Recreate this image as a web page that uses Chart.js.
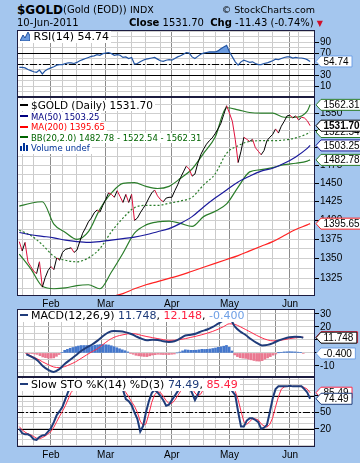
<!DOCTYPE html>
<html>
<head>
<meta charset="utf-8">
<title>$GOLD Daily</title>
<script src="https://cdn.jsdelivr.net/npm/chart.js@4.4.1/dist/chart.umd.min.js"></script>
<style>
  html, body { margin: 0; padding: 0; }
  body { width: 360px; height: 463px; background: #a4c6ee; position: relative; overflow: hidden;
    font-family: "DejaVu Sans", Verdana, sans-serif; color: #000; }
  canvas { position: absolute; left: 0; }
  .t { position: absolute; white-space: nowrap; }
  .lg { position: absolute; left: 18px; white-space: nowrap; background: #fff; padding: 0 2px; }
  .dash { display: inline-block; width: 8px; height: 2px; margin-right: 3px; vertical-align: middle; position: relative; top: -1px; }
</style>
</head>
<body>
<canvas id="rsiChart"></canvas>
<canvas id="priceChart"></canvas>
<canvas id="macdChart"></canvas>
<canvas id="stoChart"></canvas>

<div class="t" style="left:17px;top:3px;font-size:12px;font-weight:bold;line-height:14px">$GOLD</div>
<div class="t" style="left:63px;top:4px;font-size:10px;line-height:12px">(Gold (EOD))</div>
<div class="t" style="left:130px;top:4px;font-size:9.5px;line-height:12px">INDX</div>
<div class="t" style="right:45px;top:4px;font-size:9.5px;line-height:12px">&copy; StockCharts.com</div>
<div class="t" style="left:17px;top:17px;font-size:10px;line-height:12px">10-Jun-2011</div>
<div class="t" style="left:129px;top:17px;font-size:10px;line-height:12px"><b>Close</b> 1531.70 &nbsp;<b>Chg</b> -11.43 (-0.74%) <span style="color:#d0102a;font-size:8px">&#9660;</span></div>

<div class="lg" style="top:31px;font-size:11px;line-height:12px"><svg width="10" height="9" style="vertical-align:-1px"><polygon points="0,9 3,3 5,6 8,0 10,4 10,9" fill="#6b9be0" stroke="#1f4f9f" stroke-width="1"/></svg> RSI(14) 54.74</div>

<div class="lg" style="top:100px;font-size:10.5px;line-height:11px"><span class="dash" style="background:#000"></span>$GOLD (Daily) 1531.70</div>
<div class="lg" style="top:111.5px;font-size:8.5px;line-height:10.5px;color:#000080"><span class="dash" style="background:#000080"></span>MA(50) 1503.25</div>
<div class="lg" style="top:122px;font-size:8.5px;line-height:10.5px;color:#ff0000"><span class="dash" style="background:#ff0000"></span>MA(200) 1395.65</div>
<div class="lg" style="top:132.5px;font-size:8.5px;line-height:10.5px;color:#006400"><span class="dash" style="background:#006400"></span>BB(20,2.0) 1482.78 - 1522.54 - 1562.31</div>
<div class="lg" style="top:143px;font-size:8.5px;line-height:10.5px;color:#003399"><svg width="8" height="8" style="margin-right:3px"><rect x="0" y="3" width="2" height="5" fill="#003399"/><rect x="3" y="0" width="2" height="8" fill="#003399"/><rect x="6" y="2" width="2" height="6" fill="#003399"/></svg>Volume undef</div>

<div class="lg" style="top:310px;font-size:11px;line-height:12px"><span class="dash" style="background:#1f3c7a"></span>MACD(12,26,9) <span style="color:#1f3c7a">11.748</span>, <span style="color:#ff2040">12.148</span>, <span style="color:#6fa0e6">-0.400</span></div>
<div class="lg" style="top:379px;font-size:11px;line-height:12px"><span class="dash" style="background:#1f3c7a"></span>Slow STO %K(14) %D(3) <span style="color:#1f3c7a">74.49</span>, <span style="color:#ff2040">85.49</span></div>

<script>
// trading days shown on the chart
const dates = [
  '2011-01-14','2011-01-18','2011-01-19','2011-01-20','2011-01-21','2011-01-24','2011-01-25','2011-01-26','2011-01-27','2011-01-28','2011-01-31',
  '2011-02-01','2011-02-02','2011-02-03','2011-02-04','2011-02-07','2011-02-08','2011-02-09','2011-02-10','2011-02-11','2011-02-14','2011-02-15',
  '2011-02-16','2011-02-17','2011-02-18','2011-02-22','2011-02-23','2011-02-24','2011-02-25','2011-02-28',
  '2011-03-01','2011-03-02','2011-03-03','2011-03-04','2011-03-07','2011-03-08','2011-03-09','2011-03-10','2011-03-11','2011-03-14','2011-03-15',
  '2011-03-16','2011-03-17','2011-03-18','2011-03-21','2011-03-22','2011-03-23','2011-03-24','2011-03-25','2011-03-28','2011-03-29','2011-03-30','2011-03-31',
  '2011-04-01','2011-04-04','2011-04-05','2011-04-06','2011-04-07','2011-04-08','2011-04-11','2011-04-12','2011-04-13','2011-04-14','2011-04-15',
  '2011-04-18','2011-04-19','2011-04-20','2011-04-21','2011-04-25','2011-04-26','2011-04-27','2011-04-28','2011-04-29',
  '2011-05-02','2011-05-03','2011-05-04','2011-05-05','2011-05-06','2011-05-09','2011-05-10','2011-05-11','2011-05-12','2011-05-13','2011-05-16',
  '2011-05-17','2011-05-18','2011-05-19','2011-05-20','2011-05-23','2011-05-24','2011-05-25','2011-05-26','2011-05-27','2011-05-31',
  '2011-06-01','2011-06-02','2011-06-03','2011-06-06','2011-06-07','2011-06-08','2011-06-09','2011-06-10'
];
const monthNames = ['Jan','Feb','Mar','Apr','May','Jun','Jul','Aug','Sep','Oct','Nov','Dec'];

// daily close
const prices = [
  1372,1360,1371,1346,1340,1334,1331,1346,1314,1326,
  1335,1340,1336,1351,1348,1358,1362,1363,1364,1358,
  1361,1372,1383,1390,1398,1403,1410,1414,1411,1420,
  1428,1437,1435,1431,1440,1432,1424,1435,1424,1435,
  1400,1403,1410,1416,1422,1430,1437,1441,1433,1428,
  1425,1430,1431,1431,1440,1448,1458,1466,1474,1470,
  1460,1463,1478,1490,1498,1505,1510,1514,1520,1527,
  1535,1548,1561,1550,1538,1512,1479,1495,1515,1512,
  1509,1512,1500,1495,1490,1496,1510,1515,1519,1527,
  1521,1531,1538,1546,1547,1543,1546,1540,1544,1543,
  1539,1531.70
];

// smooth overlays, read every 4th day
const bandIdx = [0,4,8,12,16,20,24,28,32,36,40,44,48,52,56,60,64,68,72,76,80,84,88,92,96,100,101];
const bbUpper = [1419,1423,1425,1395,1384,1375,1385,1415,1437,1450,1451,1446,1443,1446,1457,1470,1492,1515,1558,1555,1551,1550,1550,1544,1544,1553,1562.31];
const bbMid   = [1387,1380,1368,1353,1348,1346,1351,1363,1385,1403,1417,1420,1420,1423,1426,1431,1448,1463,1492,1503,1509,1510,1510,1511,1514,1520,1522.54];
const bbLower = [1356,1337,1315,1312,1313,1316,1317,1312,1333,1357,1383,1394,1398,1399,1396,1392,1405,1412,1422,1445,1466,1469,1472,1476,1478,1481,1482.78];
const ma50    = [1384,1381,1379,1377,1374,1372,1371,1372,1374,1376,1378,1381,1385,1389,1396,1405,1418,1430,1441,1452,1460,1467,1471,1478,1487,1499,1503.25];
const ma200   = [null,null,null,null,null,null,null,1297,1302,1306,1312,1317,1321,1325,1329,1334,1339,1344,1349,1354,1360,1366,1372,1380,1388,1394,1395.65];

// RSI(14)
const rsi = [
  44,44,43,40,38,36,35,39,32,38,
  41,43,45,48,49,49,51,52,52,51,
  53,56,58,60,62,64,65,67,66,69,
  70,71,69,66,67,66,62,63,60,62,
  50,51,54,57,59,60,61,62,59,56,
  55,57,58,57,60,63,65,68,71,70,
  63,60,64,68,70,71,72,72,72,74,
  78,81,84,72,63,54,48,54,57,55,
  53,54,51,49,49,51,52,54,56,59,
  58,60,62,63,63,61,62,61,61,60,
  58,54.74
];

// MACD(12,26,9), lines read every 2nd day
const macdIdx = [0,2,4,6,8,10,12,14,16,18,20,22,24,26,28,30,32,34,36,38,40,42,44,46,48,50,
                 52,54,56,58,60,62,64,66,68,70,72,74,76,78,80,82,84,86,88,90,92,94,96,98,100,101];
const macdLine = [-1.0,-3.0,-5.6,-10.0,-13.0,-14.6,-12.5,-8.5,-5.2,-2.0,1.5,4.2,6.5,9.5,13.0,15.8,16.8,16.6,16.0,14.8,12.8,11.0,9.8,10.2,10.0,9.0,
                  8.5,9.0,11.0,13.4,14.0,15.0,16.8,18.0,20.0,22.6,25.0,26.8,20.5,16.5,13.8,10.5,7.8,5.8,6.2,7.6,9.6,11.0,12.0,12.4,12.3,11.748];
const macdSignal = [-0.5,-2.5,-4.5,-6.9,-9.0,-10.8,-11.3,-10.5,-8.8,-6.8,-4.2,-1.5,1.0,3.3,6.5,9.7,12.0,13.4,14.3,14.9,14.6,13.5,12.6,11.8,11.0,10.2,
                    9.7,9.8,10.3,11.0,12.0,12.9,14.0,15.2,16.6,18.3,20.3,22.4,22.0,20.2,18.0,15.8,13.5,11.5,10.0,9.3,9.5,10.2,11.0,11.6,12.0,12.148];
const macdHist = [
  -0.5,-0.5,-0.5,-0.8,-1.1,-2.1,-3.1,-3.6,-4.0,-4.0,
  -3.8,-2.6,-1.2,0.4,2.0,2.8,3.6,4.2,4.8,5.3,
  5.7,5.7,5.7,5.6,5.5,5.9,6.2,6.4,6.5,6.3,
  6.1,5.5,4.8,4.0,3.2,2.4,1.7,0.8,-0.1,-1.0,
  -1.8,-2.2,-2.5,-2.7,-2.8,-2.2,-1.6,-1.3,-1.0,-1.1,
  -1.2,-1.2,-1.2,-1.0,-0.8,0.0,0.7,1.6,2.4,2.2,
  2.0,2.0,2.1,2.4,2.8,2.7,2.8,3.0,3.4,3.8,
  4.3,4.7,5.2,5.8,4.4,1.5,-1.5,-2.8,-3.7,-4.0,
  -4.2,-4.8,-5.3,-5.8,-6.2,-6.3,-5.9,-4.8,-3.8,-2.8,
  -1.7,-0.8,0.1,0.5,0.8,0.9,1.0,0.9,0.8,0.6,
  0.3,-0.4
];

// Slow STO %K(14) %D(3)
const stoK = [
  20,12,10,10,7,1,0,5,8,9,
  15,21,32,45,52,60,74,88,96,92,
  93,96,98,98,99,98,98,97,92,94,
  96,98,95,93,96,93,91,74,70,63,
  50,38,15,25,50,70,85,91,86,80,
  72,62,64,72,80,88,96,99,99,97,
  85,72,82,95,99,99,99,99,99,99,
  99,100,100,95,88,81,51,24,24,35,
  39,39,36,32,20,22,27,50,75,92,
  97,97,97,97,98,97,97,97,97,92,
  86,74.49
];
const stoD = [
  24,18,14,11,9,6,3,2,4,7,
  11,15,23,33,43,52,62,74,86,92,
  93,93,95,97,98,98,98,98,96,94,
  94,96,96,95,95,94,92,86,78,69,
  61,50,34,26,29,47,68,82,87,86,
  79,71,66,66,72,80,88,94,98,98,
  94,85,80,83,92,98,99,99,99,99,
  99,99,99,98,94,88,73,52,33,28,
  33,38,38,36,29,25,23,28,40,60,
  78,92,96,97,97,97,97,97,97,95,
  92,85.49
];

// axis tick labels
const rsiTicks = [10, 30, 50, 70, 90];
const priceTicks = [1325, 1350, 1375, 1400, 1425, 1450, 1475, 1500, 1525, 1550];
const macdTicks = [-10, 0, 10, 20, 30];
const stoTicks = [20, 50, 80];

const NAVY = '#1f3c7a', RED = '#ff2a4a', GREEN = '#2a7d2a';
const tickFont = { family: '"Liberation Sans", Arial, sans-serif', size: 10 };

// month lines and weekly lines
const days = dates.map(d => new Date(d + 'T00:00:00Z'));
const monthStarts = [];
const weekStarts = [];
days.forEach((d, i) => {
  if (i === 0) return;
  if (d.getUTCMonth() !== days[i - 1].getUTCMonth()) monthStarts.push(i);
  if (d.getUTCDay() < days[i - 1].getUTCDay()) weekStarts.push(i);
});
const gridDays = weekStarts
  .filter(w => !monthStarts.some(m => Math.abs(m - w) <= 2))
  .concat(monthStarts)
  .sort((a, b) => a - b);

function pts(values) {
  return values.map((y, x) => ({ x: x, y: y }));
}
function sampled(idx, values) {
  return idx.map((x, k) => ({ x: x, y: values[k] }));
}
function last(a) {
  return a[a.length - 1];
}

function xScale(showDates) {
  return {
    type: 'linear', min: -0.8, max: 102.7, bounds: 'data',
    afterBuildTicks: s => { s.ticks = gridDays.map(v => ({ value: v })); },
    afterFit: s => { s.height = showDates ? 13 : 0; s.paddingLeft = 0; s.paddingRight = 0; },
    ticks: {
      display: showDates, autoSkip: false, maxRotation: 0, padding: 2, color: '#000', font: tickFont,
      callback: v => monthStarts.includes(v) ? monthNames[days[v].getUTCMonth()] : ''
    },
    grid: {
      drawTicks: false,
      color: ctx => (ctx.tick && monthStarts.includes(ctx.tick.value)) ? '#8c8c8c' : '#cacaca'
    },
    border: { display: false }
  };
}

function yScale(type, min, max, step, labelled) {
  return {
    type: type, min: min, max: max, position: 'right', bounds: 'data',
    afterBuildTicks: s => {
      const t = [];
      for (let v = Math.ceil(min / step) * step; v <= max; v += step) t.push({ value: v });
      s.ticks = t;
    },
    afterFit: s => { s.width = 45; s.paddingTop = 0; s.paddingBottom = 0; },
    ticks: {
      autoSkip: false, padding: 1, color: '#000', font: tickFont,
      callback: v => labelled.includes(v) ? String(v) : ''
    },
    grid: {
      color: '#cfcfcf', tickLength: 4,
      tickColor: ctx => (ctx.tick && labelled.includes(ctx.tick.value)) ? '#000' : 'rgba(0,0,0,0)'
    },
    border: { display: false }
  };
}

function drawTag(c, x, y, text, color, bold) {
  c.save();
  c.font = (bold ? 'bold ' : '') + '10px "Liberation Sans", Arial, sans-serif';
  const w = c.measureText(text).width + 6;
  c.beginPath();
  c.moveTo(x, y);
  c.lineTo(x + 5, y - 5.5);
  c.lineTo(x + 5 + w, y - 5.5);
  c.lineTo(x + 5 + w, y + 5.5);
  c.lineTo(x + 5, y + 5.5);
  c.closePath();
  c.fillStyle = '#fff';
  c.fill();
  c.strokeStyle = color;
  c.lineWidth = 1;
  c.stroke();
  c.fillStyle = '#000';
  c.textBaseline = 'middle';
  c.fillText(text, x + 7.5, y + 0.5);
  c.restore();
}

function panelDeco(levels, tags) {
  return {
    id: 'panelDeco',
    beforeDraw(chart) {
      const a = chart.chartArea, c = chart.ctx;
      c.save();
      c.fillStyle = '#fff';
      c.fillRect(a.left, a.top, a.right - a.left, a.bottom - a.top);
      c.restore();
    },
    beforeDatasetsDraw(chart) {
      const a = chart.chartArea, c = chart.ctx, y = chart.scales.y;
      c.save();
      c.strokeStyle = '#000';
      c.lineWidth = 1;
      levels.forEach(l => {
        const py = Math.round(y.getPixelForValue(l.value)) + 0.5;
        c.setLineDash(l.dash || []);
        c.beginPath();
        c.moveTo(a.left, py);
        c.lineTo(a.right, py);
        c.stroke();
      });
      c.restore();
    },
    afterDraw(chart) {
      const a = chart.chartArea, c = chart.ctx, y = chart.scales.y;
      c.save();
      c.strokeStyle = '#1c1c40';
      c.lineWidth = 1;
      c.strokeRect(Math.round(a.left) + 0.5, Math.round(a.top) + 0.5,
                   Math.round(a.right - a.left) - 1, Math.round(a.bottom - a.top) - 1);
      c.restore();
      tags.forEach(t => drawTag(c, a.right + 1, y.getPixelForValue(t.value), t.text, t.color, t.bold));
    }
  };
}

function makePanel(id, top, height, showDates, y, datasets, levels, tags) {
  const cv = document.getElementById(id);
  cv.width = 360;
  cv.height = height;
  cv.style.top = top + 'px';
  return new Chart(cv, {
    type: 'line',
    data: { datasets: datasets },
    options: {
      responsive: false, animation: false, events: [], devicePixelRatio: 1,
      layout: { padding: { left: 17, right: 0, top: 0, bottom: 0 } },
      plugins: { legend: { display: false }, tooltip: { enabled: false } },
      elements: { point: { radius: 0 } },
      scales: { x: xScale(showDates), y: y }
    },
    plugins: [panelDeco(levels, tags)]
  });
}

const dashDot = [7, 2, 2, 2];

// RSI panel
makePanel('rsiChart', 30, 67, false, yScale('linear', -10, 112, 10, rsiTicks), [
  { data: pts(rsi), borderColor: '#2456a4', borderWidth: 1.2,
    fill: { target: { value: 70 }, above: '#6b9be0', below: 'rgba(0,0,0,0)' } }
], [{ value: 70 }, { value: 30 }, { value: 50, dash: dashDot }], [
  { value: last(rsi), text: last(rsi).toFixed(2), color: '#6fa0e6' }
]);

// price panel
makePanel('priceChart', 97, 212, true, yScale('logarithmic', 1303, 1574, 12.5, priceTicks), [
  { data: pts(prices), borderColor: '#000', borderWidth: 1,
    segment: { borderColor: ctx => ctx.p1.parsed.y < ctx.p0.parsed.y ? '#e0103c' : '#000' } },
  { data: sampled(bandIdx, ma50), borderColor: '#1a1a9c', borderWidth: 1.2, cubicInterpolationMode: 'monotone' },
  { data: sampled(bandIdx, ma200), borderColor: '#ff2222', borderWidth: 1.2, cubicInterpolationMode: 'monotone' },
  { data: sampled(bandIdx, bbUpper), borderColor: GREEN, borderWidth: 1.2, cubicInterpolationMode: 'monotone' },
  { data: sampled(bandIdx, bbMid), borderColor: GREEN, borderWidth: 1.2, borderDash: [2, 2], cubicInterpolationMode: 'monotone' },
  { data: sampled(bandIdx, bbLower), borderColor: GREEN, borderWidth: 1.2, cubicInterpolationMode: 'monotone' }
], [], [
  { value: last(bbUpper), text: last(bbUpper).toFixed(2), color: GREEN },
  { value: last(bbMid), text: last(bbMid).toFixed(2), color: GREEN },
  { value: last(prices), text: last(prices).toFixed(2), color: '#000', bold: true },
  { value: last(ma50), text: last(ma50).toFixed(2), color: '#1a1a9c' },
  { value: last(bbLower), text: last(bbLower).toFixed(2), color: GREEN },
  { value: last(ma200), text: last(ma200).toFixed(2), color: '#ff2222' }
]);

// MACD panel
makePanel('macdChart', 309, 68, false, yScale('linear', -18.5, 33.8, 5, macdTicks), [
  { data: sampled(macdIdx, macdLine), borderColor: NAVY, borderWidth: 2, cubicInterpolationMode: 'monotone' },
  { data: sampled(macdIdx, macdSignal), borderColor: RED, borderWidth: 1, cubicInterpolationMode: 'monotone' },
  { type: 'bar', data: pts(macdHist), barThickness: 2,
    backgroundColor: ctx => ctx.parsed && ctx.parsed.y < 0 ? '#ea7890' : '#4477cc' }
], [], [
  { value: last(macdSignal), text: last(macdSignal).toFixed(3), color: RED },
  { value: last(macdLine), text: last(macdLine).toFixed(3), color: '#000' },
  { value: last(macdHist), text: last(macdHist).toFixed(3), color: '#6fa0e6' }
]);

// Slow stochastics panel
makePanel('stoChart', 377, 83, true, yScale('linear', -13, 114, 10, stoTicks), [
  { data: pts(stoK), borderColor: NAVY, borderWidth: 2 },
  { data: pts(stoD), borderColor: RED, borderWidth: 1 }
], [{ value: 80 }, { value: 20 }, { value: 50, dash: dashDot }], [
  { value: last(stoD), text: last(stoD).toFixed(2), color: RED },
  { value: last(stoK), text: last(stoK).toFixed(2), color: NAVY }
]);
</script>
</body>
</html>
